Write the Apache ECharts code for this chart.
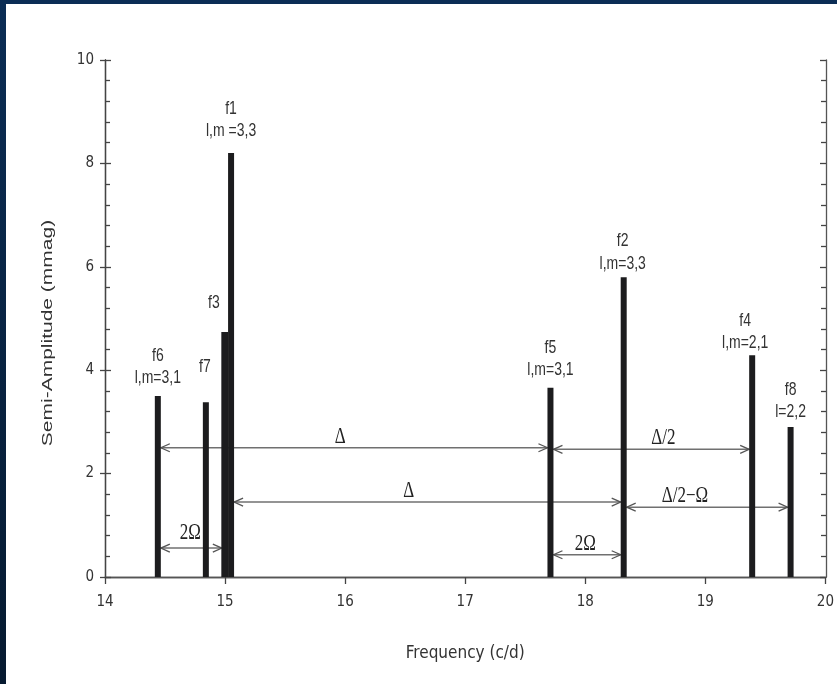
<!DOCTYPE html>
<html>
<head>
<meta charset="utf-8">
<script src="https://cdn.jsdelivr.net/npm/echarts@6/dist/echarts.min.js"></script>
<style>
html,body{margin:0;padding:0;background:#fff;}
#chart{width:837px;height:684px;}
</style>
</head>
<body>
<div id="chart"></div>
<script>
// ---- data ----
var peakNames = ['f6', 'f7', 'f3', 'f1', 'f5', 'f2', 'f4', 'f8'];
var peakModes = ['l,m=3,1', '', '', 'l,m =3,3', 'l,m=3,1', 'l,m=3,3', 'l,m=2,1', 'l=2,2'];
var peakFreq = [14.44, 14.84, 14.998, 15.05, 17.71, 18.32, 19.39, 19.71];
var peakAmp = [3.50, 3.38, 4.74, 8.20, 3.66, 5.80, 4.29, 2.90];

var arrowLabels = ['Δ', 'Δ/2', 'Δ', 'Δ/2−Ω', '2Ω', '2Ω'];
var arrowFrom = [14.44, 17.71, 15.05, 18.32, 14.44, 17.71];
var arrowTo = [17.71, 19.39, 18.32, 19.71, 14.998, 18.32];
var arrowLevel = [2.50, 2.47, 1.45, 1.35, 0.56, 0.43];
var arrowLabelAt = [15.96, 18.65, 16.53, 18.83, 14.71, 18.00];

var xTicks = [14, 15, 16, 17, 18, 19, 20];
var yTicks = [0, 2, 4, 6, 8, 10];
var xTitle = 'Frequency (c/d)';
var yTitle = 'Semi-Amplitude (mmag)';

// ---- styles (not data) ----
var labelStyle = {
  f1: {dx: 0, dy1: -44, dy2: -22},
  f3: {dx: -11, dy1: -29},
  f7: {dx: -1, dy1: -35},
  f4: {dx: -7, dy1: -34, dy2: -12},
  f2: {dx: -1, dy1: -36, dy2: -13},
  f8: {dx: 0, dy1: -37, dy2: -15},
  def: {dx: 0, dy1: -40, dy2: -18}
};
var barWidths = {f3: 7, f1: 6, def: 6};

var peakData = peakFreq.map(function (f, i) { return [f, peakAmp[i], peakNames[i], peakModes[i]]; });
var arrowData = arrowFrom.map(function (f, i) { return [f, arrowTo[i], arrowLevel[i], arrowLabelAt[i], arrowLabels[i]]; });

var narrow = "'DejaVu Sans Condensed','Liberation Sans Narrow','Liberation Sans',sans-serif";
var sans = "'Liberation Sans',Arial,sans-serif";
var serif = "'Liberation Serif','DejaVu Serif',serif";

var chart = echarts.init(document.getElementById('chart'), null, {renderer: 'canvas'});

var gridRect = {left: 105, right: 11, top: 60, bottom: 107};

var option = {
  backgroundColor: '#ffffff',
  animation: false,
  grid: [
    Object.assign({}, gridRect),
    Object.assign({}, gridRect)
  ],
  xAxis: [
    {
      type: 'value', gridIndex: 0, min: xTicks[0], max: xTicks[xTicks.length - 1], interval: 1,
      position: 'bottom',
      name: xTitle, nameLocation: 'middle', nameGap: 68,
      nameTextStyle: {fontFamily: narrow, fontSize: 17, color: '#333'},
      axisLine: {lineStyle: {color: '#444', width: 1.3}},
      axisTick: {show: true, inside: false, length: 7, lineStyle: {color: '#444', width: 1.3}},
      axisLabel: {margin: 18, fontFamily: narrow, fontSize: 15, color: '#333'},
      splitLine: {show: false}
    },
    {
      type: 'value', gridIndex: 1, min: xTicks[0], max: xTicks[xTicks.length - 1], interval: 1,
      position: 'top',
      axisLine: {lineStyle: {color: '#555', width: 1.3}},
      axisTick: {show: false}, axisLabel: {show: false}, splitLine: {show: false}
    }
  ],
  yAxis: [
    {
      type: 'value', gridIndex: 0, min: yTicks[0], max: yTicks[yTicks.length - 1], interval: 2,
      position: 'left',
      axisLine: {show: true, lineStyle: {color: '#444', width: 1.3}},
      axisTick: {show: true, inside: false, length: 5, lineStyle: {color: '#444', width: 1.3}},
      axisLabel: {margin: 11, fontFamily: narrow, fontSize: 15, color: '#333'},
      splitLine: {show: false}
    },
    {
      type: 'value', gridIndex: 1, min: yTicks[0], max: yTicks[yTicks.length - 1], interval: 2,
      position: 'left',
      axisLine: {show: true, lineStyle: {color: '#444', width: 1.3}},
      axisTick: {show: true, inside: true, length: 6, lineStyle: {color: '#444', width: 1.3}},
      minorTick: {show: true, splitNumber: 5, length: 5, lineStyle: {color: '#444', width: 1.3}},
      axisLabel: {show: false}, splitLine: {show: false}
    },
    {
      type: 'value', gridIndex: 1, min: yTicks[0], max: yTicks[yTicks.length - 1], interval: 2,
      position: 'right',
      axisLine: {show: true, lineStyle: {color: '#555', width: 1.3}},
      axisTick: {show: true, inside: true, length: 6, lineStyle: {color: '#444', width: 1.3}},
      minorTick: {show: true, splitNumber: 5, length: 5, lineStyle: {color: '#444', width: 1.3}},
      axisLabel: {show: false}, splitLine: {show: false}
    }
  ],
  graphic: [
    {type: 'rect', left: 0, top: 0, shape: {width: 837, height: 4}, style: {fill: '#0b2d55'}, z: 100},
    {type: 'rect', left: 0, top: 0, shape: {width: 6, height: 684},
      style: {fill: new echarts.graphic.LinearGradient(0, 0, 0, 1, [
        {offset: 0, color: '#0b2d55'}, {offset: 1, color: '#061a30'}])}, z: 100},
    {type: 'text', x: 48, y: 333, rotation: Math.PI / 2, scaleX: 1.4, scaleY: 1,
      style: {text: yTitle, font: '15px ' + sans, fill: '#333', align: 'center', verticalAlign: 'middle'}, z: 50}
  ],
  series: [
    {
      type: 'custom', xAxisIndex: 0, yAxisIndex: 0, z: 5,
      data: arrowData,
      renderItem: function (params, api) {
        var x1 = api.value(0), x2 = api.value(1), lv = api.value(2), lx = api.value(3);
        var lab = arrowLabels[params.dataIndex];
        var p1 = api.coord([x1, lv]), p2 = api.coord([x2, lv]);
        var a = p1[0] + 3, b = p2[0] - 3, y = p1[1];
        var col = '#707070';
        var head = 9, hw = 4;
        var lp = api.coord([lx, lv]);
        var dy = params.dataIndex === 4 ? -15 : -11;
        return {
          type: 'group',
          children: [
            {type: 'line', shape: {x1: a, y1: y, x2: b, y2: y}, style: {stroke: col, lineWidth: 1.6}},
            {type: 'polyline', shape: {points: [[a + head, y - hw], [a, y], [a + head, y + hw]]}, style: {stroke: '#555', lineWidth: 1.3, fill: null}},
            {type: 'polyline', shape: {points: [[b - head, y - hw], [b, y], [b - head, y + hw]]}, style: {stroke: '#555', lineWidth: 1.3, fill: null}},
            {type: 'text', x: lp[0], y: y + dy, scaleY: 1.3, style: {text: lab, fontFamily: serif, fontSize: 17, fill: '#222', align: 'center', verticalAlign: 'middle'}}
          ]
        };
      }
    },
    {
      type: 'custom', xAxisIndex: 0, yAxisIndex: 0, z: 10,
      data: peakData,
      renderItem: function (params, api) {
        var f = api.value(0), amp = api.value(1);
        var name = peakNames[params.dataIndex], mode = peakModes[params.dataIndex];
        var p0 = api.coord([f, 0]), p1 = api.coord([f, amp]);
        var w = barWidths[name] || barWidths.def;
        var ls = labelStyle[name] || labelStyle.def;
        var dy2 = ls.dy2 !== undefined ? ls.dy2 : labelStyle.def.dy2;
        var ch = [
          {type: 'rect', shape: {x: p0[0] - w / 2, y: p1[1], width: w, height: p0[1] - p1[1]}, style: {fill: '#1c1c1e'}},
          {type: 'text', x: p0[0] + ls.dx, y: p1[1] + ls.dy1, scaleY: 1.3, style: {text: name, fontFamily: sans, fontSize: 14, fill: '#333', align: 'center', verticalAlign: 'middle'}}
        ];
        if (mode) {
          ch.push({type: 'text', x: p0[0] + ls.dx, y: p1[1] + dy2, scaleY: 1.3, style: {text: mode, fontFamily: sans, fontSize: 14, fill: '#333', align: 'center', verticalAlign: 'middle'}});
        }
        return {type: 'group', children: ch};
      }
    }
  ]
};
chart.setOption(option);
</script>
</body>
</html>
